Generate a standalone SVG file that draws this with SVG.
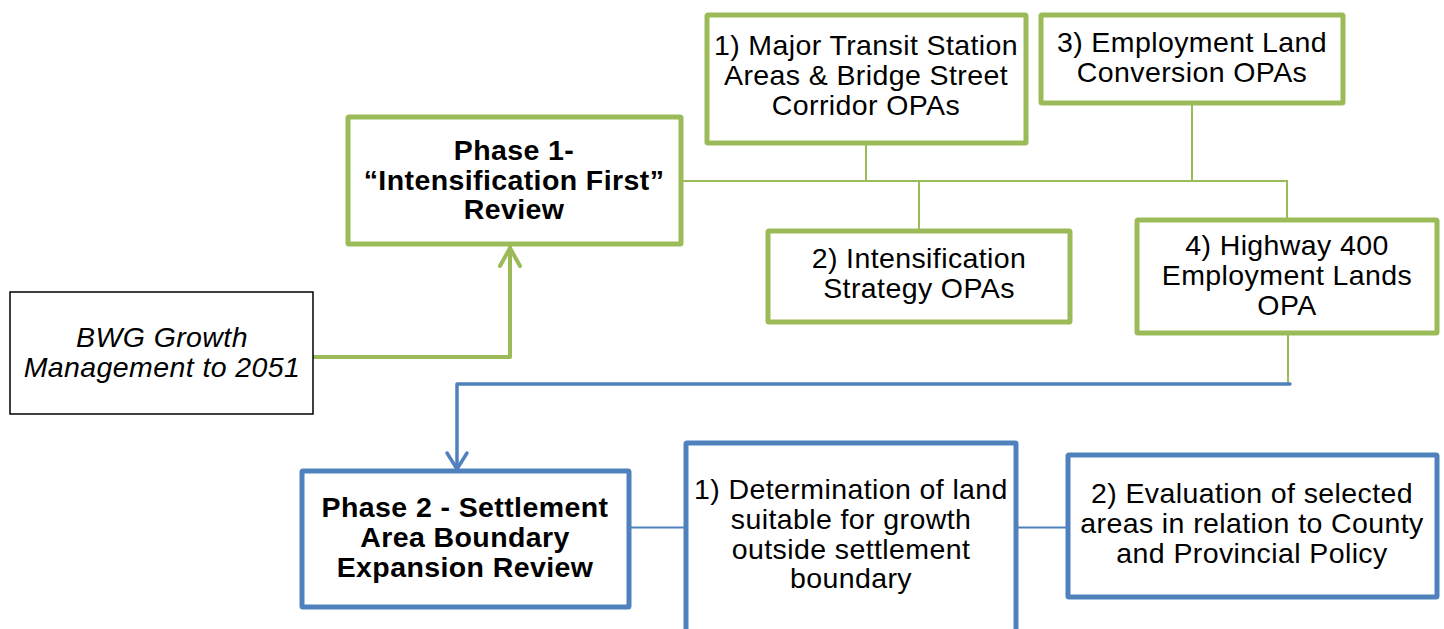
<svg xmlns="http://www.w3.org/2000/svg" width="1444" height="629" viewBox="0 0 1444 629">
  <style>
    .box { fill: #ffffff; stroke-width: 5; }
    .g { stroke: #9BBB59; }
    .b { stroke: #4F81BD; }
    .k { fill: #ffffff; stroke: #000000; stroke-width: 1.5; }
    text { font-family: "Liberation Sans", Arial, sans-serif; font-size: 28.5px; letter-spacing: 0.4px; fill: #000000; text-anchor: middle; }
    .bold { font-weight: bold; }
    .it { font-style: italic; }
    .thin-g { fill: none; stroke: #9BBB59; stroke-width: 2; }
    .thin-b { fill: none; stroke: #4F81BD; stroke-width: 2; }
    .arrow-g { fill: none; stroke: #9BBB59; stroke-width: 4; stroke-linejoin: round; stroke-linecap: round; }
    .arrow-b { fill: none; stroke: #4F81BD; stroke-width: 3.5; stroke-linejoin: round; stroke-linecap: round; }
  </style>

  <!-- connectors -->
  <g id="connectors">
    <!-- Phase 1 branch bus -->
    <path class="thin-g" d="M681 181 H1288"/>
    <path class="thin-g" d="M866 143 V181"/>
    <path class="thin-g" d="M1192 104 V181"/>
    <path class="thin-g" d="M919 181 V230"/>
    <path class="thin-g" d="M1287 181 V218"/>
    <path class="thin-g" d="M1288 334 V384"/>
    <!-- growth management to Phase 1 -->
    <path class="arrow-g" d="M313 357 H510 V247"/>
    <path class="arrow-g" d="M500 266 L510 248 L520 266"/>
    <!-- Phase 1 to Phase 2 -->
    <path class="arrow-b" d="M1290 384 H457 V468"/>
    <path class="arrow-b" d="M447 453 L457 469 L467 453"/>
    <!-- Phase 2 steps -->
    <path class="thin-b" d="M629 527.5 H686"/>
    <path class="thin-b" d="M1016 527.5 H1068"/>
  </g>

  <g id="phase1">
    <rect class="box g" x="348" y="117" width="333" height="127" rx="1"/>
    <text class="bold" x="514" y="160">Phase 1-</text>
    <text class="bold" x="514" y="190">“Intensification First”</text>
    <text class="bold" x="514" y="219">Review</text>
  </g>

  <g id="mtsa">
    <rect class="box g" x="707" y="15" width="319" height="128" rx="1"/>
    <text x="866" y="55">1) Major Transit Station</text>
    <text x="866" y="85">Areas &amp; Bridge Street</text>
    <text x="866" y="115">Corridor OPAs</text>
  </g>

  <g id="employment-conversion">
    <rect class="box g" x="1041" y="15" width="302" height="88" rx="1"/>
    <text x="1192" y="52">3) Employment Land</text>
    <text x="1192" y="82">Conversion OPAs</text>
  </g>

  <g id="intensification-strategy">
    <rect class="box g" x="768" y="231" width="302" height="91" rx="1"/>
    <text x="919" y="268">2) Intensification</text>
    <text x="919" y="298">Strategy OPAs</text>
  </g>

  <g id="highway-400">
    <rect class="box g" x="1137" y="220" width="300" height="113" rx="1"/>
    <text x="1287" y="255">4) Highway 400</text>
    <text x="1287" y="285">Employment Lands</text>
    <text x="1287" y="315">OPA</text>
  </g>

  <g id="bwg">
    <rect class="k" x="10" y="292" width="303" height="122"/>
    <text class="it" x="162" y="347">BWG Growth</text>
    <text class="it" x="162" y="377">Management to 2051</text>
  </g>

  <g id="phase2">
    <rect class="box b" x="302" y="471" width="327" height="136" rx="1"/>
    <text class="bold" x="465" y="517">Phase 2 - Settlement</text>
    <text class="bold" x="465" y="547">Area Boundary</text>
    <text class="bold" x="465" y="577">Expansion Review</text>
  </g>

  <g id="land-determination">
    <rect class="box b" x="686" y="443" width="330" height="200" rx="1"/>
    <text x="851" y="499">1) Determination of land</text>
    <text x="851" y="529">suitable for growth</text>
    <text x="851" y="559">outside settlement</text>
    <text x="851" y="588">boundary</text>
  </g>

  <g id="policy-evaluation">
    <rect class="box b" x="1068" y="455" width="369" height="142" rx="1"/>
    <text x="1252" y="503">2) Evaluation of selected</text>
    <text x="1252" y="533">areas in relation to County</text>
    <text x="1252" y="563">and Provincial Policy</text>
  </g>
</svg>
